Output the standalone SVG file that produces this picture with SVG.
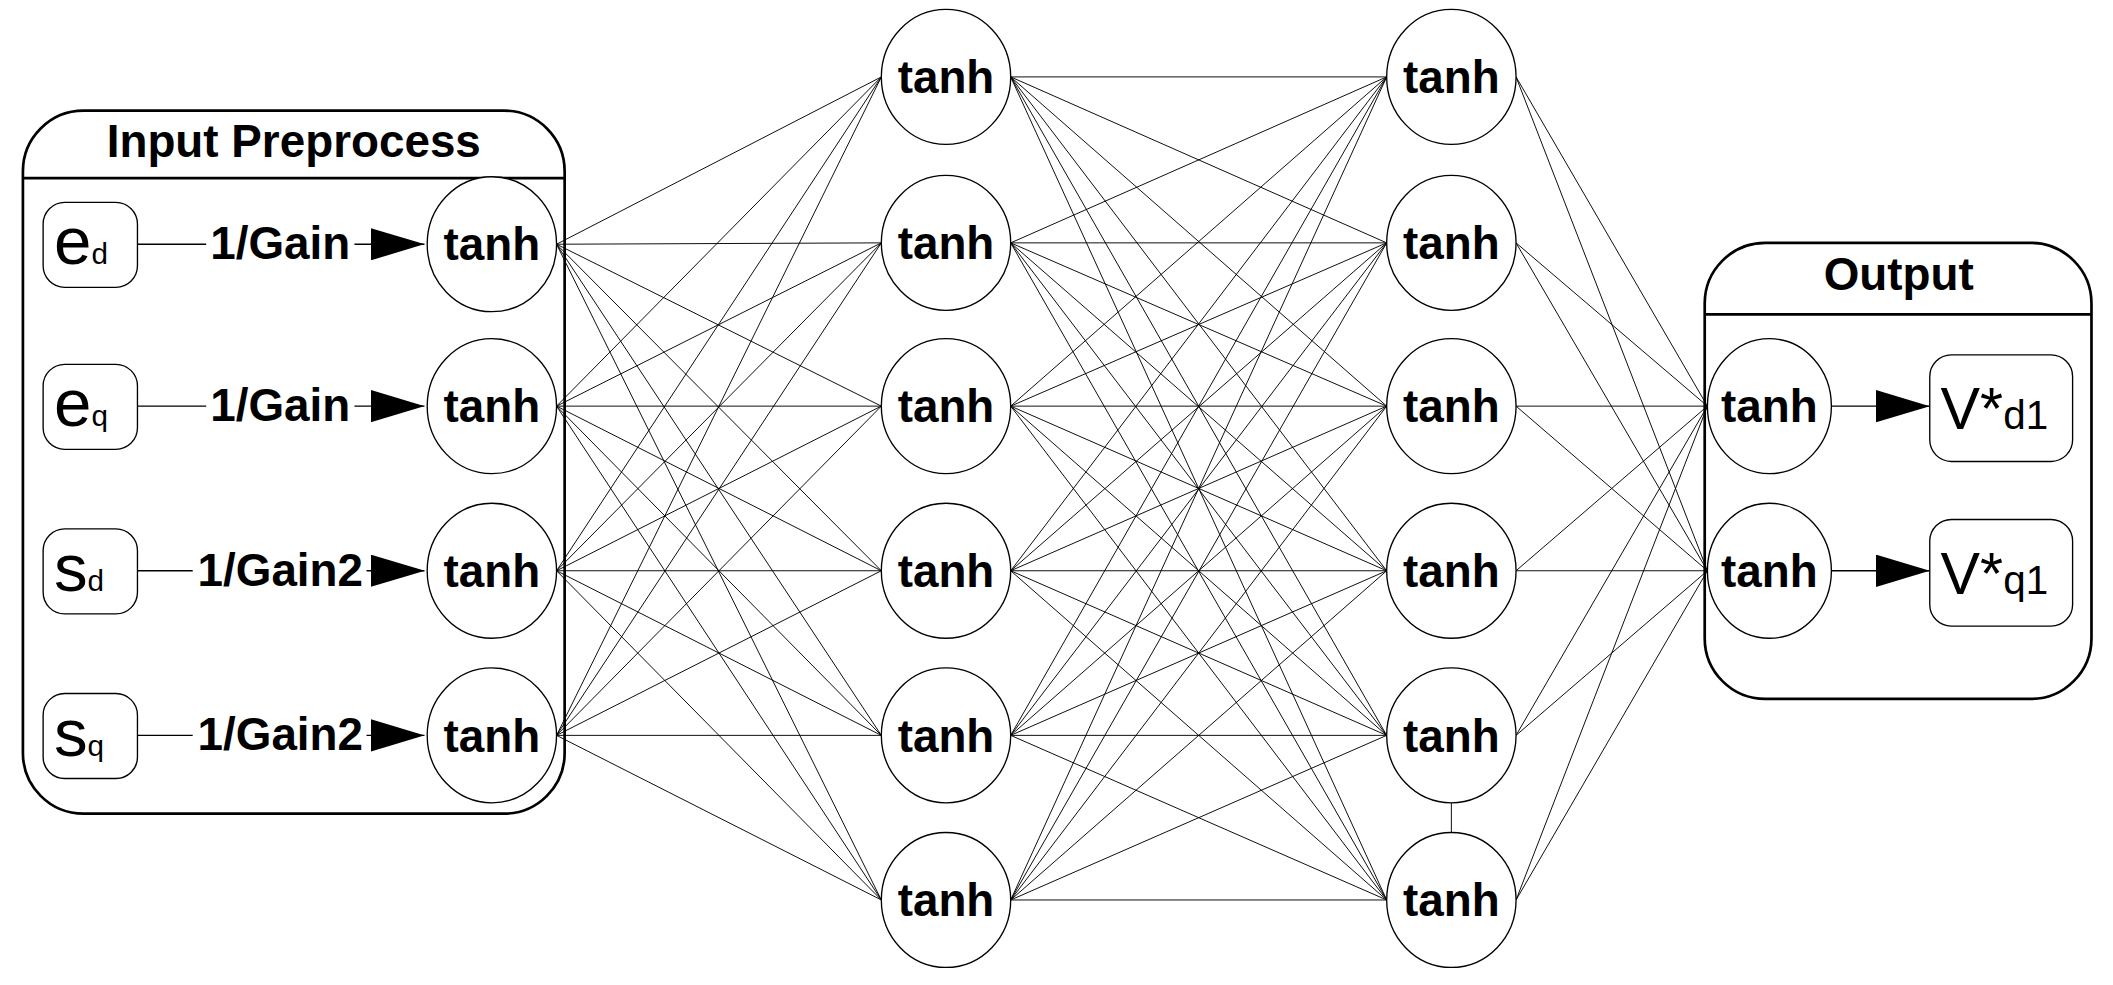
<svg xmlns="http://www.w3.org/2000/svg" width="2113" height="985" viewBox="0 0 2113 985">
<style>
.c{fill:#fff;stroke:#000;stroke-width:1}
.t{font-family:"Liberation Sans",Arial,sans-serif;font-weight:bold;font-size:34px;text-anchor:middle}
.r{font-family:"Liberation Sans",Arial,sans-serif}
.b{fill:none;stroke:#000;stroke-width:2}
.sb{fill:#fff;stroke:#000;stroke-width:1}
.w{stroke:#000;stroke-width:0.7;fill:none}
</style>
<defs><marker id="a" markerWidth="40" markerHeight="24" refX="40" refY="12" orient="auto" markerUnits="userSpaceOnUse"><path d="M0,0 L40,12 L0,24 Z" fill="#000"/></marker></defs>
<rect width="2113" height="985" fill="#fff"/>
<g transform="scale(1.3476,1.3493)">
<g id="input-box"><path class="b" d="M17,132 V127 A45,45 0 0 1 62,82 H374 A45,45 0 0 1 419,127 V558 A45,45 0 0 1 374,603 H62 A45,45 0 0 1 17,558 Z M17,132 H419"/><text class="t" x="218" y="116">Input Preprocess</text></g>
<g id="output-box"><path class="b" d="M1265,233 V225 A45,45 0 0 1 1310,180 H1507 A45,45 0 0 1 1552,225 V473 A45,45 0 0 1 1507,518 H1310 A45,45 0 0 1 1265,473 Z M1265,233 H1552"/><text class="t" x="1409" y="215">Output</text></g>
<g id="connectors" class="w">
<path id="wires" d="
M413,181L654,57M413,181L654,180M413,181L654,301M413,181L654,423M413,181L654,545M413,181L654,667
M413,301L654,57M413,301L654,180M413,301L654,301M413,301L654,423M413,301L654,545M413,301L654,667
M413,423L654,57M413,423L654,180M413,423L654,301M413,423L654,423M413,423L654,545M413,423L654,667
M413,545L654,57M413,545L654,180M413,545L654,301M413,545L654,423M413,545L654,545M413,545L654,667
M750,57L1029,57M750,57L1029,180M750,57L1029,301M750,57L1029,423M750,57L1029,545M750,57L1029,667
M750,180L1029,57M750,180L1029,180M750,180L1029,301M750,180L1029,423M750,180L1029,545M750,180L1029,667
M750,301L1029,57M750,301L1029,180M750,301L1029,301M750,301L1029,423M750,301L1029,545M750,301L1029,667
M750,423L1029,57M750,423L1029,180M750,423L1029,301M750,423L1029,423M750,423L1029,545M750,423L1029,667
M750,545L1029,57M750,545L1029,180M750,545L1029,301M750,545L1029,423M750,545L1029,545M750,545L1029,667
M750,667L1029,57M750,667L1029,180M750,667L1029,301M750,667L1029,423M750,667L1029,545M750,667L1029,667
M1125,57L1267,301M1125,57L1267,423M1125,180L1267,301M1125,180L1267,423M1125,301L1267,301M1125,301L1267,423
M1125,423L1267,301M1125,423L1267,423M1125,545L1267,301M1125,545L1267,423M1125,667L1267,301M1125,667L1267,423
M1077,595V617"/>
<g stroke-width="1">
<line x1="102" y1="181" x2="153" y2="181"/><line x1="263" y1="181" x2="315" y2="181" marker-end="url(#a)"/>
<line x1="102" y1="301" x2="153" y2="301"/><line x1="263" y1="301" x2="315" y2="301" marker-end="url(#a)"/>
<line x1="102" y1="423" x2="143" y2="423"/><line x1="272" y1="423" x2="315" y2="423" marker-end="url(#a)"/>
<line x1="102" y1="545" x2="143" y2="545"/><line x1="272" y1="545" x2="315" y2="545" marker-end="url(#a)"/>
<line x1="1359" y1="301" x2="1432" y2="301" marker-end="url(#a)"/>
<line x1="1359" y1="423" x2="1432" y2="423" marker-end="url(#a)"/>
</g>
</g>
<g class="t" font-size="30">
<text x="208" y="192">1/Gain</text><text x="208" y="312">1/Gain</text>
<text x="208" y="434">1/Gain2</text><text x="208" y="556">1/Gain2</text>
</g>
<g id="in-ed"><rect class="sb" x="32" y="150" width="70" height="63" rx="16"/><text class="r" x="40" y="196" font-size="50">e<tspan font-size="22">d</tspan></text></g>
<g id="in-eq"><rect class="sb" x="32" y="270" width="70" height="63" rx="16"/><text class="r" x="40" y="316" font-size="50">e<tspan font-size="22">q</tspan></text></g>
<g id="in-sd"><rect class="sb" x="32" y="392" width="70" height="63" rx="16"/><text class="r" x="40" y="438" font-size="50">s<tspan font-size="22">d</tspan></text></g>
<g id="in-sq"><rect class="sb" x="32" y="514" width="70" height="63" rx="16"/><text class="r" x="40" y="560" font-size="50">s<tspan font-size="22">q</tspan></text></g>
<g id="i1"><ellipse class="c" cx="365" cy="181" rx="48" ry="50"/><text class="t" x="365" y="193">tanh</text></g>
<g id="i2"><ellipse class="c" cx="365" cy="301" rx="48" ry="50"/><text class="t" x="365" y="313">tanh</text></g>
<g id="i3"><ellipse class="c" cx="365" cy="423" rx="48" ry="50"/><text class="t" x="365" y="435">tanh</text></g>
<g id="i4"><ellipse class="c" cx="365" cy="545" rx="48" ry="50"/><text class="t" x="365" y="557">tanh</text></g>
<g id="h1-1"><ellipse class="c" cx="702" cy="57" rx="48" ry="50"/><text class="t" x="702" y="69">tanh</text></g>
<g id="h1-2"><ellipse class="c" cx="702" cy="180" rx="48" ry="50"/><text class="t" x="702" y="192">tanh</text></g>
<g id="h1-3"><ellipse class="c" cx="702" cy="301" rx="48" ry="50"/><text class="t" x="702" y="313">tanh</text></g>
<g id="h1-4"><ellipse class="c" cx="702" cy="423" rx="48" ry="50"/><text class="t" x="702" y="435">tanh</text></g>
<g id="h1-5"><ellipse class="c" cx="702" cy="545" rx="48" ry="50"/><text class="t" x="702" y="557">tanh</text></g>
<g id="h1-6"><ellipse class="c" cx="702" cy="667" rx="48" ry="50"/><text class="t" x="702" y="679">tanh</text></g>
<g id="h2-1"><ellipse class="c" cx="1077" cy="57" rx="48" ry="50"/><text class="t" x="1077" y="69">tanh</text></g>
<g id="h2-2"><ellipse class="c" cx="1077" cy="180" rx="48" ry="50"/><text class="t" x="1077" y="192">tanh</text></g>
<g id="h2-3"><ellipse class="c" cx="1077" cy="301" rx="48" ry="50"/><text class="t" x="1077" y="313">tanh</text></g>
<g id="h2-4"><ellipse class="c" cx="1077" cy="423" rx="48" ry="50"/><text class="t" x="1077" y="435">tanh</text></g>
<g id="h2-5"><ellipse class="c" cx="1077" cy="545" rx="48" ry="50"/><text class="t" x="1077" y="557">tanh</text></g>
<g id="h2-6"><ellipse class="c" cx="1077" cy="667" rx="48" ry="50"/><text class="t" x="1077" y="679">tanh</text></g>
<g id="o1"><ellipse class="c" cx="1313" cy="301" rx="46" ry="50"/><text class="t" x="1313" y="313">tanh</text></g>
<g id="o2"><ellipse class="c" cx="1313" cy="423" rx="46" ry="50"/><text class="t" x="1313" y="435">tanh</text></g>
<g id="vd"><rect class="sb" x="1432" y="263" width="106" height="79" rx="16"/><text class="r" x="1440" y="318" font-size="44">V*<tspan font-size="30">d1</tspan></text></g>
<g id="vq"><rect class="sb" x="1432" y="385" width="106" height="79" rx="16"/><text class="r" x="1440" y="440" font-size="44">V*<tspan font-size="30">q1</tspan></text></g>
</g>
</svg>
